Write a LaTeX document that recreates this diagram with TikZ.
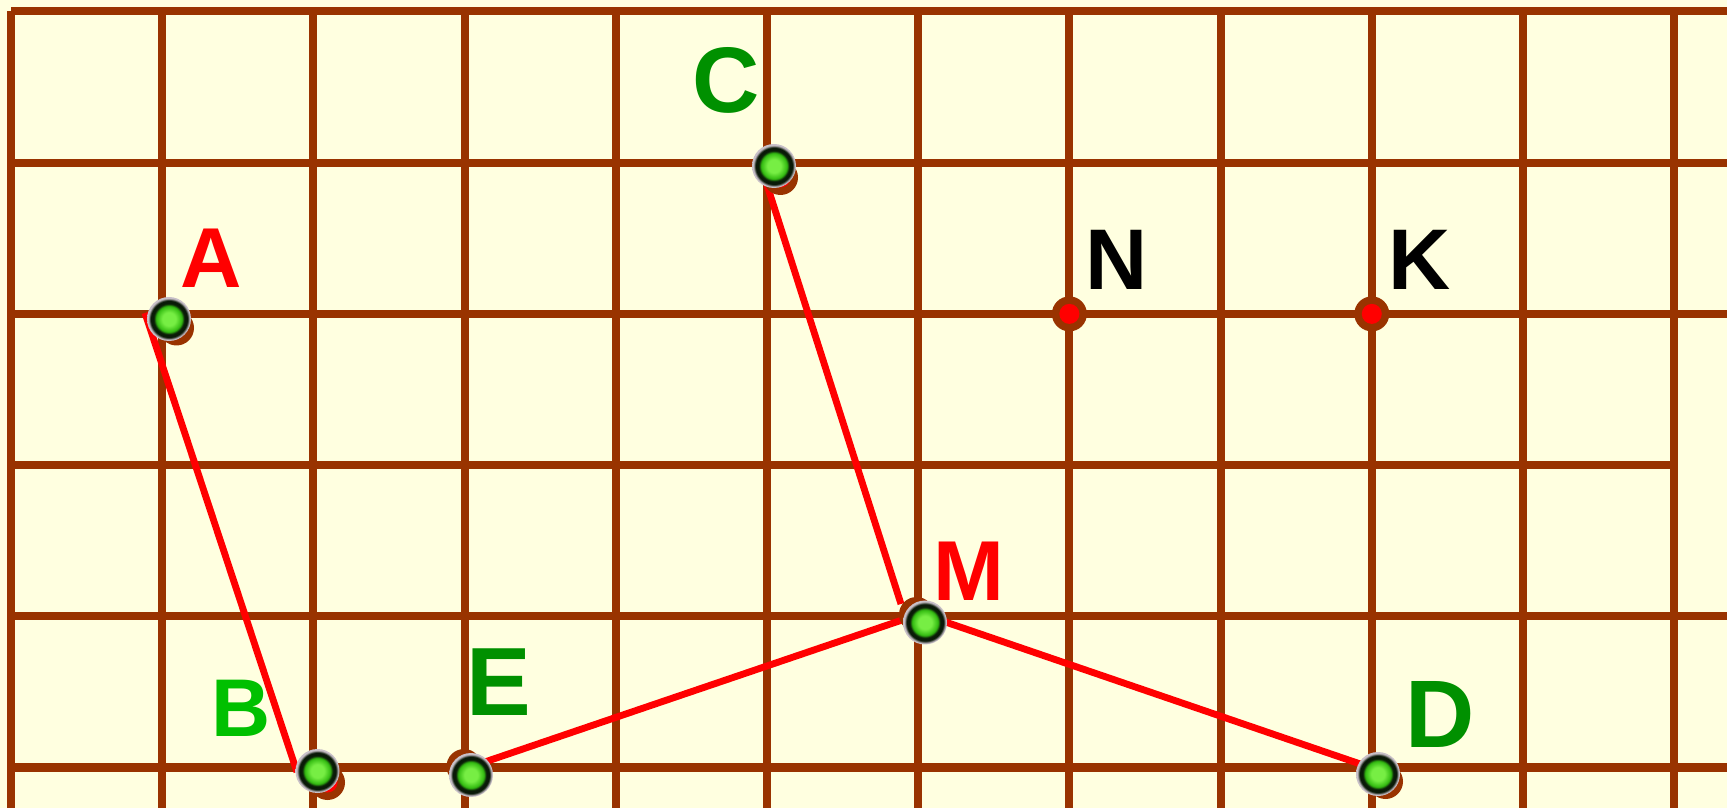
\documentclass[tikz,border=0pt]{standalone}
\usepackage{fontspec}
\setmainfont{Liberation Sans}
\definecolor{bg}{HTML}{FFFFE0}
\definecolor{brn}{HTML}{993300}
\definecolor{rd}{HTML}{FF0000}
\definecolor{dg}{HTML}{009000}
\definecolor{lg}{HTML}{00C000}
\definecolor{ballhi}{HTML}{77EE44}
\definecolor{ballmid}{HTML}{33BB11}
\definecolor{balldark}{HTML}{0A1A08}
\definecolor{ballrim}{HTML}{C8C0C8}
\pgfdeclareradialshading{gball}{\pgfpointorigin}{color(0bp)=(ballhi); color(7.5bp)=(ballhi); color(14.5bp)=(ballmid); color(17.5bp)=(balldark); color(21bp)=(balldark); color(23.5bp)=(ballrim); color(25bp)=(ballrim); color(50bp)=(ballrim)}
\begin{document}
\begin{tikzpicture}[x=0.1mm,y=-0.1mm,
  gridline/.style={brn, line width=2.28pt},
  seg/.style={rd, line width=1.95pt},
  lbl/.style={anchor=base west, inner sep=0pt, outer sep=0pt}]
\useasboundingbox (0,0) rectangle (1727,808);
\fill[bg] (0,0) rectangle (1727,808);
% grid
\foreach \i in {0,...,11}
  \draw[gridline] ({11+151.2*\i},11) -- ({11+151.2*\i},808);
\foreach \j in {0,1,2,4,5}
  \draw[gridline] (11,{11.5+151.2*\j}) -- (1727,{11.5+151.2*\j});
\draw[gridline] (11,465.1) -- (1674.2,465.1);
% point positions
\coordinate (rA) at (176.5,328);   \coordinate (bA) at (169,319);
\coordinate (rB) at (327.5,782.5); \coordinate (bB) at (317.5,771);
\coordinate (rC) at (780.5,177.5); \coordinate (bC) at (774,166);
\coordinate (rD) at (1385.5,781.5);\coordinate (bD) at (1378,774);
\coordinate (rE) at (464,766.5);   \coordinate (bE) at (471,775);
\coordinate (rM) at (916.5,614.5); \coordinate (bM) at (925,622.5);
\coordinate (rN) at (1069.4,313.9);
\coordinate (rK) at (1371.8,313.9);
% connector ends
\coordinate (a1) at (145,313);
\coordinate (b1) at (297,772);
\coordinate (c1) at (760,163);
\coordinate (m1) at (901,604);
\coordinate (m2) at (908,618);
\coordinate (e1) at (470,767);
\coordinate (m3) at (925,615);
\coordinate (d1) at (1372,768);
% red segments
\draw[seg] (a1) -- (b1);
\draw[seg] (c1) -- (m1);
\draw[seg] (m2) -- (e1);
\draw[seg] (m3) -- (d1);
% rings
\foreach \p in {rA,rB,rC,rD,rE,rM,rN,rK}{
  \fill[brn] (\p) circle[radius=17.5];
  \fill[rd] (\p) circle[radius=10];
}
% balls
\foreach \p in {bA,bB,bC,bD,bE,bM}
  \shade[shading=gball] (\p) circle[radius=22];
% labels
\node[lbl, text=rd, font={\fontsize{24.2}{28}\selectfont\bfseries}] (lA) at (180,288) {A};
\node[lbl, text=lg, font={\fontsize{23.3}{28}\selectfont\bfseries}] (lB) at (211,736) {B};
\node[lbl, text=dg, font={\fontsize{26.5}{30}\selectfont\bfseries}] (lC) at (692,112.5) {C};
\node[lbl, text=dg, font={\fontsize{27.3}{30}\selectfont\bfseries}] (lD) at (1405,747) {D};
\node[lbl, text=dg, font={\fontsize{27.6}{30}\selectfont\bfseries}] (lE) at (466,716) {E};
\node[lbl, text=rd, font={\fontsize{24.2}{28}\selectfont\bfseries}] (lM) at (933,601) {M};
\node[lbl, text=black, font={\fontsize{24.5}{28}\selectfont\bfseries}] (lN) at (1085,290) {N};
\node[lbl, text=black, font={\fontsize{24.5}{28}\selectfont\bfseries}] (lK) at (1388,290) {K};
\end{tikzpicture}
\end{document}
